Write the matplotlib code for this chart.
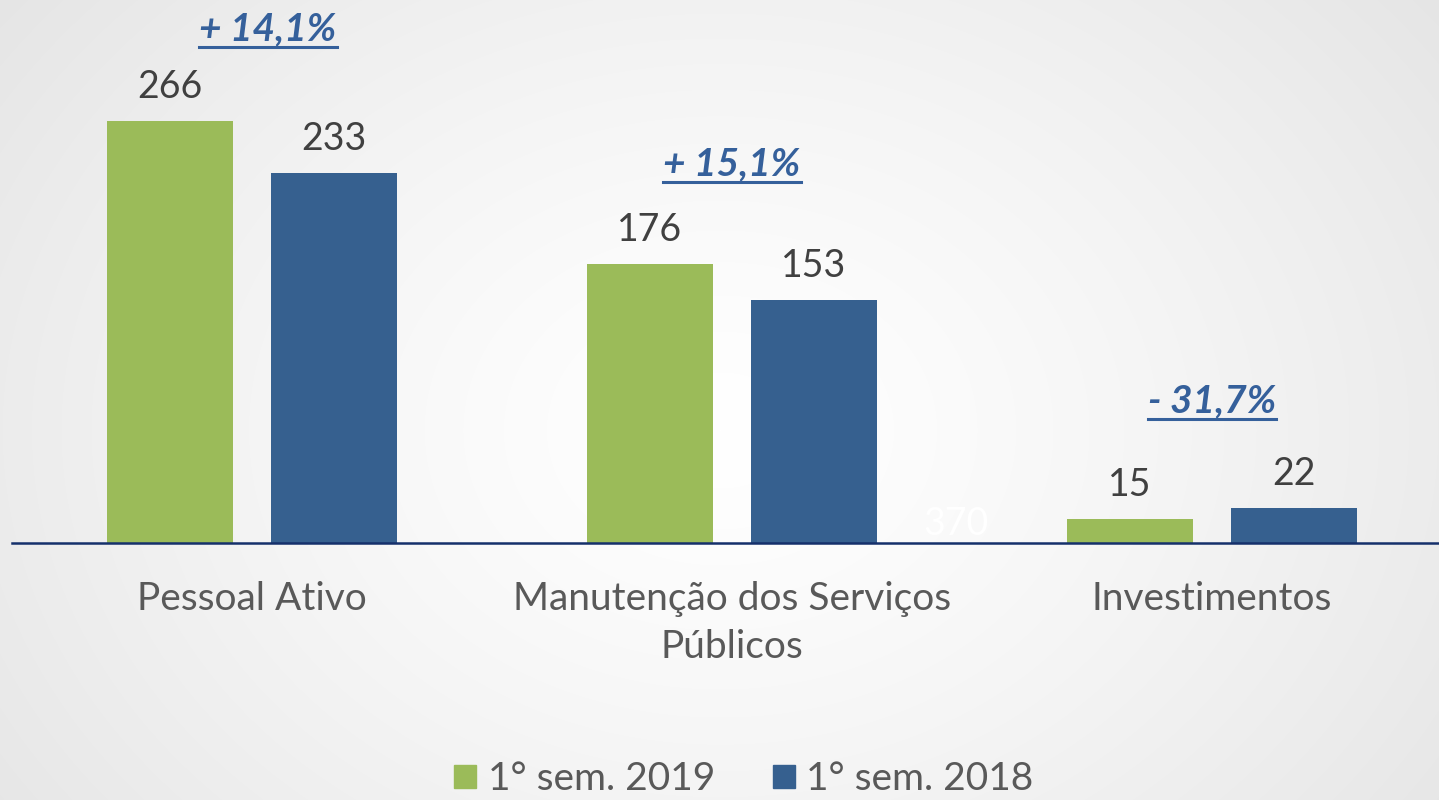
import numpy as np
import matplotlib
matplotlib.use("Agg")
import matplotlib.pyplot as plt
from matplotlib.lines import Line2D
from matplotlib.patches import Patch
from matplotlib.transforms import blended_transform_factory

categories = ["Pessoal Ativo", "Manutenção dos Serviços\nPúblicos", "Investimentos"]
series_names = ["1° sem. 2019", "1° sem. 2018"]
values_2019 = [266, 176, 15]
values_2018 = [233, 153, 22]
pct_labels = ["+ 14,1%", "+ 15,1%", "- 31,7%"]
hidden_label = "370"

GREEN = "#9BBB59"
BLUE = "#36608F"
TEXT = "#404040"
PCT = "#35609B"
AXIS = "#15306B"
FONT = "Lato"

W, H = 1439, 800
fig = plt.figure(figsize=(W / 100, H / 100), dpi=100)

# radial gradient background
bg = fig.add_axes([0, 0, 1, 1], zorder=-10)
yy, xx = np.mgrid[0:H, 0:W]
r = np.sqrt(((xx - 720) / 900.0) ** 2 + ((yy - 430) / 700.0) ** 2)
shade = 1.0 - 0.10 * np.clip(r, 0, 1) ** 1.3
bg.imshow(np.dstack([shade] * 3), aspect="auto", extent=[0, 1, 0, 1], origin="upper")
bg.axis("off")

px_per_unit = 1.587
ax = fig.add_axes([12 / W, 257 / H, 1440 / W, 543 / H])
ax.patch.set_alpha(0)
x = np.arange(len(categories))
bw = 126 / 480
off = 82 / 480
b1 = ax.bar(x - off, values_2019, bw, color=GREEN, label=series_names[0], zorder=2)
b2 = ax.bar(x + off, values_2018, bw, color=BLUE, label=series_names[1], zorder=2)
ax.set_xlim(-0.5, 2.5)
ax.set_ylim(0, 543 / px_per_unit)

for s in ["top", "right", "left"]:
    ax.spines[s].set_visible(False)
ax.spines["bottom"].set_color(AXIS)
ax.spines["bottom"].set_linewidth(1.8)
ax.spines["bottom"].set_zorder(3)
ax.set_yticks([])
ax.set_xticks([])

for bars in (b1, b2):
    for rect, v in zip(bars, bars.datavalues):
        ax.annotate(f"{v:.0f}", (rect.get_x() + rect.get_width() / 2, v),
                    xytext=(0, 16.5), textcoords="offset points",
                    ha="center", va="baseline", fontsize=27, color=TEXT, family=FONT)

# category labels
tr = blended_transform_factory(ax.transData, fig.transFigure)
for i, cat in enumerate(categories):
    ax.text(i, 1 - 581 / H, cat, transform=tr, ha="center", va="top",
            fontsize=28, color="#595959", family=FONT, linespacing=1.42)

# hidden white label
ax.text(1.467, 1 - 535 / H, hidden_label, transform=tr, ha="center", va="baseline",
        fontsize=27, color="white", family=FONT)

# percentage changes (bold italic, underlined)
pct_x = [(268 - 252) / 480, 0, 0]
pct_y = [40, 175, 412]
fig.canvas.draw()
renderer = fig.canvas.get_renderer()
for i, (lab, py) in enumerate(zip(pct_labels, pct_y)):
    t = ax.text(i + pct_x[i], 1 - py / H, lab, transform=tr, ha="center", va="baseline",
                fontsize=28, color=PCT, family=FONT, weight="bold", style="italic")
    bb = t.get_window_extent(renderer)
    uy = (H - py - 7) / H
    fig.add_artist(Line2D([bb.x0 / W, bb.x1 / W], [uy, uy], color=PCT, lw=2.2))

handles = [Patch(color=GREEN), Patch(color=BLUE)]
fig.legend(handles, series_names, loc="center", bbox_to_anchor=(0.517, 21 / H), ncol=2,
           frameon=False, handlelength=0.55, handleheight=0.55, handletextpad=0.3,
           columnspacing=1.5, borderpad=0.2, prop={"family": FONT, "size": 28},
           labelcolor="#595959")

fig.savefig("out.png", dpi=100)
